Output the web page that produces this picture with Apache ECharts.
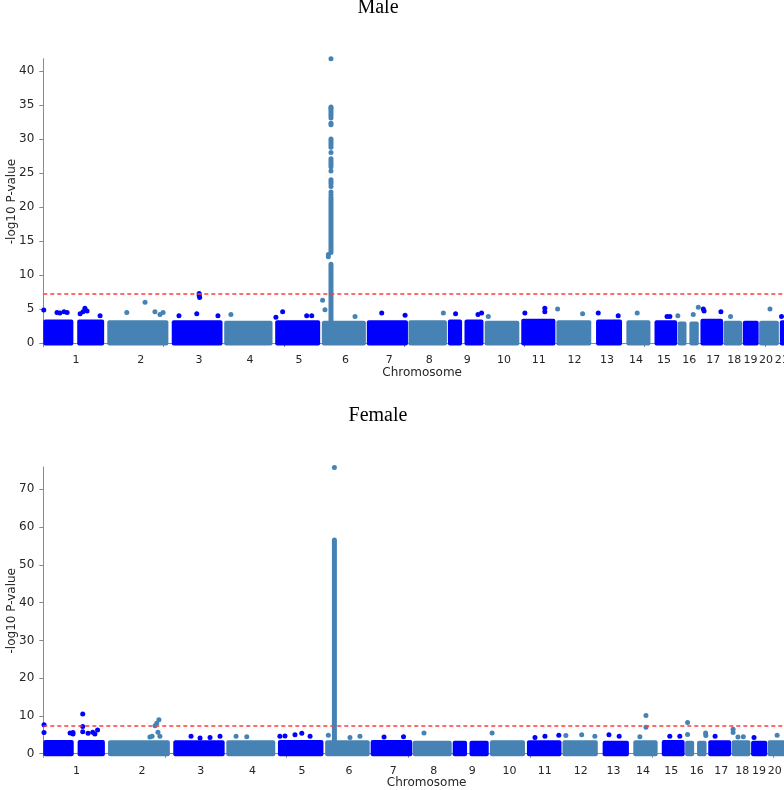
<!DOCTYPE html>
<html>
<head>
<meta charset="utf-8">
<script src="https://cdn.jsdelivr.net/npm/echarts@6/dist/echarts.min.js"></script>
<style>
html, body { margin: 0; padding: 0; background: #fff; }
#chart { width: 784px; height: 790px; }
</style>
</head>
<body>
<div id="chart"></div>
<script>
// chromosome names and label positions (cumulative Mb)
var chromNames = ['1', '2', '3', '4', '5', '6', '7', '8', '9', '10', '11', '12', '13', '14', '15', '16', '17', '18', '19', '20', '21', '22'];
var chromLabelPos = [136, 405, 647, 859, 1063, 1256, 1438, 1604, 1762, 1915, 2060, 2208, 2343, 2464, 2580, 2685, 2785, 2872, 2940, 3005, 3070, 3130];
var xTickPos = [0, 500, 1000, 1500, 2000, 2500, 3000];

// dense clouds of SNPs: [chromosome index, start Mb, end Mb]
var chromBlocks = [
    [0, 0, 125], [0, 141, 253], [1, 266, 520], [2, 534, 745], [3, 752, 953],
    [4, 964, 1151], [5, 1158, 1341], [6, 1345, 1516], [7, 1518, 1678],
    [8, 1682, 1741], [8, 1751, 1830], [9, 1835, 1979], [10, 1987, 2129],
    [11, 2133, 2278], [12, 2298, 2406], [13, 2424, 2524], [14, 2541, 2635],
    [15, 2637, 2674], [15, 2686, 2725], [16, 2732, 2826], [17, 2828, 2905],
    [18, 2908, 2974], [19, 2976, 3058], [20, 3062, 3105], [21, 3110, 3150]
];
// top of the dense cloud per chromosome (-log10 p)
var maleBandTop = [3.1, 3.0, 3.0, 2.9, 3.0, 2.9, 3.0, 3.0, 3.1, 2.9, 3.2, 3.0, 3.1, 3.0, 3.0, 2.8, 3.2, 2.9, 2.9, 2.9, 3.0, 3.0];
var femaleBandTop = [3.0, 2.9, 2.9, 2.9, 3.0, 2.9, 3.0, 2.8, 2.8, 2.9, 2.9, 2.9, 2.8, 2.9, 3.0, 2.8, 2.9, 2.9, 2.8, 2.9, 2.9, 2.9];

// single SNPs standing out: [chromosome index, Mb, -log10 p]
var maleHits = [
    [0, 2, 4.85], [0, 57, 4.5], [0, 69, 4.4], [0, 86, 4.6], [0, 99, 4.5], [0, 153, 4.3], [0, 165, 4.6], [0, 173, 5.1], [0, 182, 4.7], [0, 236, 4.0],
    [1, 347, 4.5], [1, 423, 6.0], [1, 464, 4.6], [1, 485, 4.2], [1, 498, 4.5],
    [2, 564, 4.0], [2, 638, 4.3], [2, 648, 7.3], [2, 648, 7.0], [2, 650, 6.7], [2, 726, 4.0],
    [3, 780, 4.2],
    [4, 967, 3.8], [4, 995, 4.6], [4, 1095, 4.0], [4, 1116, 4.0],
    [5, 1161, 6.3], [5, 1171, 4.9], [5, 1185, 13.0], [5, 1185, 12.7], [5, 1296, 3.9],
    [6, 1407, 4.4], [6, 1504, 4.1],
    [7, 1663, 4.4],
    [8, 1714, 4.3], [8, 1807, 4.2], [8, 1822, 4.4],
    [9, 1850, 3.9],
    [10, 2002, 4.4], [10, 2085, 5.1], [10, 2085, 4.6],
    [11, 2138, 5.0], [11, 2242, 4.3],
    [12, 2307, 4.4], [12, 2390, 4.0],
    [13, 2469, 4.4],
    [14, 2593, 3.9], [14, 2605, 3.9],
    [15, 2638, 4.0], [15, 2702, 4.2], [15, 2723, 5.25],
    [16, 2744, 5.0], [16, 2747, 4.7], [16, 2817, 4.6],
    [17, 2857, 3.9],
    [19, 3021, 5.0],
    [20, 3069, 3.9]
];
var femaleHits = [
    [0, 3, 7.7], [0, 3, 5.6], [0, 110, 5.5], [0, 122, 5.6], [0, 122, 5.2], [0, 162, 10.5], [0, 162, 7.2], [0, 162, 5.8], [0, 184, 5.4], [0, 203, 5.7], [0, 212, 5.2], [0, 223, 6.3],
    [1, 438, 4.4], [1, 447, 4.6], [1, 459, 7.4], [1, 466, 8.1], [1, 471, 5.7], [1, 475, 9.0], [1, 479, 4.6],
    [2, 607, 4.6], [2, 644, 4.2], [2, 685, 4.3], [2, 726, 4.6],
    [3, 792, 4.6], [3, 836, 4.5],
    [4, 972, 4.6], [4, 993, 4.7], [4, 1034, 5.0], [4, 1062, 5.4], [4, 1096, 4.6],
    [5, 1171, 4.9], [5, 1260, 4.3], [5, 1301, 4.6],
    [6, 1400, 4.4], [6, 1480, 4.5],
    [7, 1564, 5.5],
    [9, 1844, 5.5],
    [10, 2020, 4.3], [10, 2061, 4.6], [10, 2118, 4.9],
    [11, 2147, 4.8], [11, 2212, 5.0], [11, 2266, 4.6],
    [12, 2324, 5.0], [12, 2366, 4.6],
    [13, 2451, 4.5], [13, 2476, 10.1], [13, 2476, 7.0],
    [14, 2574, 4.6], [14, 2615, 4.6],
    [15, 2647, 8.3], [15, 2647, 5.1], [15, 2721, 5.5], [15, 2722, 4.8],
    [16, 2760, 4.6],
    [17, 2834, 6.5], [17, 2834, 5.6], [17, 2854, 4.4], [17, 2876, 4.5],
    [18, 2920, 4.3],
    [19, 3015, 4.9]
];

// the chromosome 6 (HLA) peak
var peakPos = 1196;
var malePeakRuns = [[3, 11.6], [13.3, 21.4]];
var malePeakPoints = [41.8, 34.7, 34.5, 34.3, 34.0, 33.7, 33.4, 33.1, 32.3, 32.1, 30.0, 29.7, 29.4, 29.1, 28.8, 28.0, 27.1, 26.8, 26.5, 26.2, 25.9, 25.3, 24.0, 23.7, 23.4, 23.0, 22.2, 21.8];
var femalePeakRuns = [[3, 52.3], [52.8, 56.6]];
var femalePeakPoints = [75.8];

var maleTicks = [0, 5, 10, 15, 20, 25, 30, 35, 40];
var femaleTicks = [0, 10, 20, 30, 40, 50, 60, 70];
var threshold = 7.3;

var colors = ['#0000ff', '#4682b4'];
var axisColor = '#8a8a8a';
var textColor = '#262626';

function chromColor(c) {
    return colors[c % 2];
}

function renderBlock(params, api) {
    var p0 = api.coord([api.value(1), 0]);
    var p1 = api.coord([api.value(2), api.value(3)]);
    return {
        type: 'rect',
        shape: { x: p0[0], y: p1[1] - 2.5, width: p1[0] - p0[0], height: p0[1] - p1[1] + 5, r: 2 },
        style: { fill: chromColor(api.value(0)) }
    };
}

function renderRun(params, api) {
    var lo = api.coord([api.value(0), api.value(1)]);
    var hi = api.coord([api.value(0), api.value(2)]);
    return {
        type: 'rect',
        shape: { x: lo[0] - 2.5, y: hi[1] - 2.5, width: 5, height: lo[1] - hi[1] + 5, r: 2.5 },
        style: { fill: colors[1] }
    };
}

function makeXAxis(idx) {
    return {
        gridIndex: idx,
        type: 'value',
        min: 0,
        max: 3150,
        splitLine: { show: false },
        axisLine: { lineStyle: { color: axisColor, width: 1 } },
        axisTick: { customValues: xTickPos, length: 4, lineStyle: { color: axisColor } },
        axisLabel: {
            customValues: chromLabelPos,
            formatter: function (v) { return chromNames[chromLabelPos.indexOf(v)]; },
            color: textColor,
            fontFamily: 'DejaVu Sans',
            fontSize: 11,
            margin: idx === 0 ? 10 : 11
        },
        name: 'Chromosome',
        nameLocation: 'middle',
        nameGap: 22,
        nameMoveOverlap: false,
        nameTextStyle: { color: textColor, fontFamily: 'DejaVu Sans', fontSize: 12 }
    };
}

function makeYAxis(idx, max, ticks) {
    return {
        gridIndex: idx,
        type: 'value',
        min: -0.2,
        max: max,
        splitLine: { show: false },
        axisLine: { show: true, lineStyle: { color: axisColor, width: 1 } },
        axisTick: { show: true, customValues: ticks, length: 4, lineStyle: { color: axisColor } },
        axisLabel: { customValues: ticks, color: textColor, fontFamily: 'DejaVu Sans', fontSize: 12, margin: 9 },
        name: '-log10 P-value',
        nameLocation: 'middle',
        nameGap: 25,
        nameMoveOverlap: false,
        nameTextStyle: { color: textColor, fontFamily: 'DejaVu Sans', fontSize: 12 }
    };
}

function makeSeries(idx, bandTop, hits, runs, peakPoints) {
    var blockData = chromBlocks.map(function (b) { return [b[0], b[1], b[2], bandTop[b[0]]]; });
    var runData = runs.map(function (r) { return [peakPos, r[0], r[1]]; });
    var pointData = hits.map(function (h) { return [h[1], h[2], h[0]]; });
    peakPoints.forEach(function (v) { pointData.push([peakPos, v, 5]); });
    return [{
        type: 'custom',
        xAxisIndex: idx,
        yAxisIndex: idx,
        renderItem: renderBlock,
        data: blockData,
        silent: true
    }, {
        type: 'custom',
        xAxisIndex: idx,
        yAxisIndex: idx,
        renderItem: renderRun,
        encode: { x: 0, y: [1, 2] },
        data: runData,
        silent: true
    }, {
        type: 'scatter',
        xAxisIndex: idx,
        yAxisIndex: idx,
        symbolSize: 5,
        clip: false,
        itemStyle: { color: function (p) { return chromColor(p.data[2]); }, opacity: 1 },
        data: pointData,
        markLine: {
            silent: true,
            symbol: 'none',
            label: { show: false },
            lineStyle: { color: '#ff3b3b', type: [4, 3], width: 1.5 },
            data: [{ yAxis: threshold }]
        }
    }];
}

var chart = echarts.init(document.getElementById('chart'));
chart.setOption({
    animation: false,
    backgroundColor: '#ffffff',
    title: [{
        text: 'Male',
        left: 378,
        top: -2,
        textAlign: 'center',
        padding: 0,
        textStyle: { fontFamily: 'Liberation Serif', fontSize: 20, fontWeight: 'normal', color: '#000' }
    }, {
        text: 'Female',
        left: 378,
        top: 406,
        textAlign: 'center',
        padding: 0,
        textStyle: { fontFamily: 'Liberation Serif', fontSize: 20, fontWeight: 'normal', color: '#000' }
    }],
    grid: [
        { left: 43.3, right: -17, top: 58.7, height: 285.7, outerBoundsMode: 'none' },
        { left: 43.3, right: -26, top: 467, height: 287.5, outerBoundsMode: 'none' }
    ],
    xAxis: [makeXAxis(0), makeXAxis(1)],
    yAxis: [makeYAxis(0, 41.8, maleTicks), makeYAxis(1, 75.9, femaleTicks)],
    series: makeSeries(0, maleBandTop, maleHits, malePeakRuns, malePeakPoints)
        .concat(makeSeries(1, femaleBandTop, femaleHits, femalePeakRuns, femalePeakPoints))
});
</script>
</body>
</html>
